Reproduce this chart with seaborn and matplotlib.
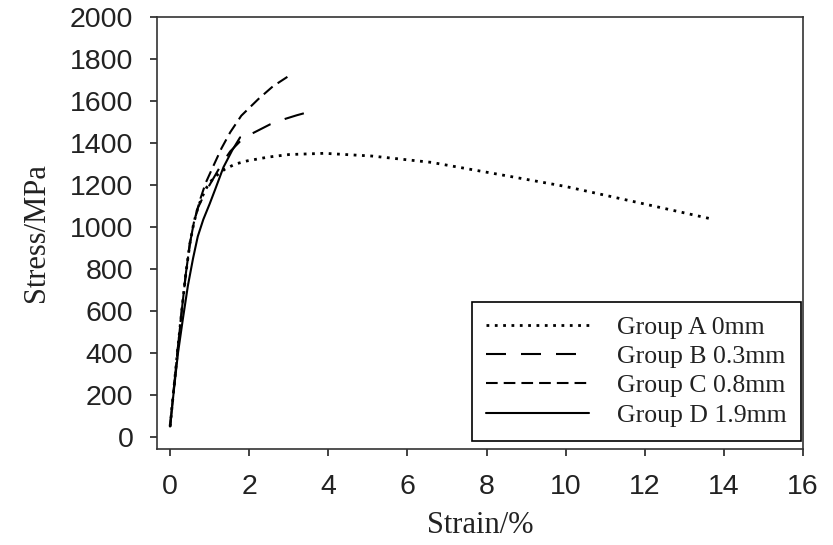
import pandas as pd
import matplotlib
matplotlib.use("Agg")
import matplotlib.pyplot as plt
import seaborn as sns

# stress-strain curves (strain in %, stress in MPa)
strain_a = [0, 0.1, 0.2, 0.3, 0.4, 0.5, 0.6, 0.7, 0.8, 0.93, 1.1, 1.39, 1.65, 1.95,
            2.48, 3.0, 3.9, 5.1, 6.6, 8.3, 10.0, 11.7, 13.65]
stress_a = [50, 240, 430, 610, 780, 920, 1020, 1090, 1140, 1190, 1235, 1276, 1300, 1315,
            1333, 1345, 1351, 1338, 1308, 1251, 1193, 1122, 1040]

strain_b = [0, 0.1, 0.2, 0.3, 0.4, 0.5, 0.6, 0.7, 0.89, 1.09, 1.32, 1.52, 1.77, 2.03,
            2.53, 2.91, 3.2, 3.47]
stress_b = [50, 240, 430, 610, 780, 920, 1020, 1090, 1165, 1230, 1305, 1360, 1408, 1441,
            1489, 1515, 1532, 1546]

strain_c = [0, 0.1, 0.2, 0.3, 0.4, 0.5, 0.6, 0.7, 0.76, 0.9, 1.09, 1.3, 1.52, 1.8,
            2.23, 2.6, 2.99]
stress_c = [50, 240, 430, 610, 780, 920, 1020, 1090, 1131, 1210, 1289, 1375, 1451, 1530,
            1609, 1670, 1718]

strain_d = [0, 0.1, 0.2, 0.32, 0.45, 0.58, 0.7, 0.84, 1.0, 1.14, 1.35, 1.57, 1.77]
stress_d = [50, 230, 400, 558, 720, 850, 955, 1036, 1110, 1179, 1285, 1365, 1427]

groups = ["Group A 0mm", "Group B 0.3mm", "Group C 0.8mm", "Group D 1.9mm"]

x_ticks = list(range(0, 17, 2))
y_ticks = list(range(0, 2001, 200))

frames = []
for name, xs, ys in zip(groups,
                        [strain_a, strain_b, strain_c, strain_d],
                        [stress_a, stress_b, stress_c, stress_d]):
    frames.append(pd.DataFrame({"strain": xs, "stress": ys, "group": name}))
df = pd.concat(frames, ignore_index=True)

sns.set_theme(style="ticks")
plt.rcParams["font.family"] = ["Liberation Sans", "DejaVu Sans"]

fig = plt.figure(figsize=(8.33, 5.45), dpi=100)
ax = fig.add_axes([0.1885, 0.1761, 0.7755, 0.7927])

line_styles = {
    groups[0]: (1, 2),
    groups[1]: (9.6, 7.2),
    groups[2]: (5.6, 2.9),
    groups[3]: "",
}
sns.lineplot(data=df, x="strain", y="stress", style="group", dashes=line_styles,
             color="black", linewidth=1.5, sort=False, estimator=None, ax=ax)

# dotted curve drawn a bit thicker so the dots show
ax.get_lines()[0].set_linewidth(2.0)

ax.set_xlim(-0.33, 16)
ax.set_ylim(-57, 2000)
ax.set_xticks(x_ticks)
ax.set_yticks(y_ticks)
ax.tick_params(axis="both", direction="out", length=5, width=1.2, colors="#222222",
               labelsize=20.5)
ax.tick_params(axis="x", pad=13)
ax.tick_params(axis="y", pad=12)
for sp in ax.spines.values():
    sp.set_visible(True)
    sp.set_linewidth(1.2)
    sp.set_color("#333333")

ax.set_xlabel("Strain/%", family=["Liberation Serif"], fontsize=22, labelpad=8,
              color="#222222")
ax.set_ylabel("Stress/MPa", family=["Liberation Serif"], fontsize=22, labelpad=14,
              color="#222222")

handles, labels = ax.get_legend_handles_labels()
handles[0].set_linewidth(2.0)
leg = ax.legend(handles, labels, loc="lower right", bbox_to_anchor=(0.997, 0.0185),
                borderaxespad=0, fancybox=False, edgecolor="black", framealpha=1,
                prop={"family": "Liberation Serif", "size": 18.5},
                handlelength=4.0, labelspacing=0.25, handletextpad=1.1,
                borderpad=0.55)
leg.get_frame().set_linewidth(1.2)
for t in leg.get_texts():
    t.set_color("#222222")

plt.savefig("out.png", dpi=100)
plt.close()
